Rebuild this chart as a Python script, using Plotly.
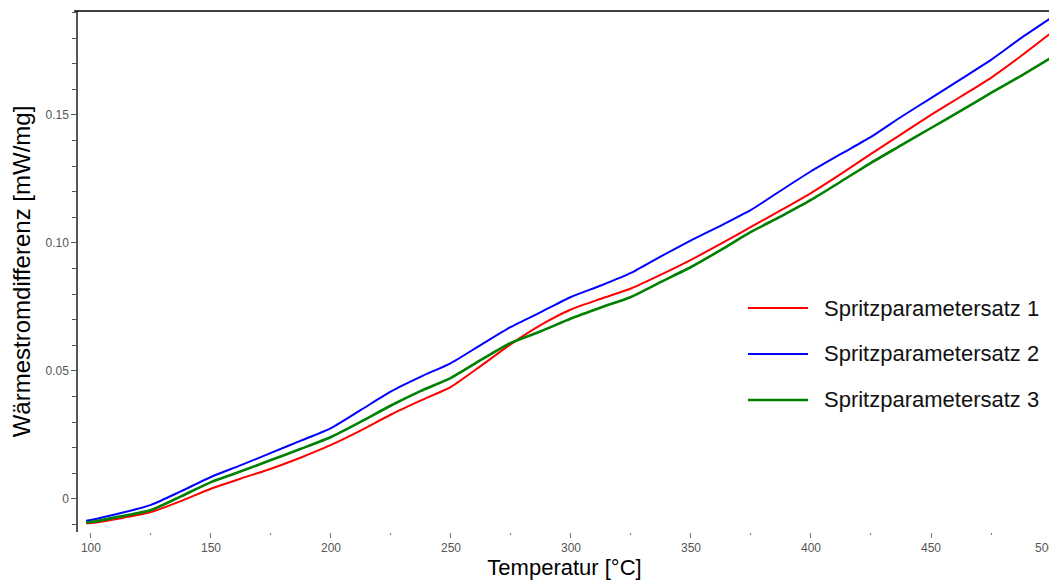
import plotly.graph_objects as go

# temperatures in °C
temperatur = [98, 100, 112.5, 125, 137.5, 150, 162.5, 175, 187.5, 200, 212.5, 225, 237.5,
              250, 262.5, 275, 287.5, 300, 312.5, 325, 337.5, 350, 362.5, 375, 387.5,
              400, 412.5, 425, 437.5, 450, 462.5, 475, 487.5, 500]

# Wärmestromdifferenz in mW/mg
satz1 = [-0.0095, -0.0094, -0.0075, -0.0051, -0.0008, 0.0040, 0.0080, 0.0118, 0.0162, 0.0211,
         0.0268, 0.0330, 0.0385, 0.0438, 0.0520, 0.0605, 0.0680, 0.0740, 0.0782, 0.0822,
         0.0876, 0.0934, 0.0997, 0.1063, 0.1128, 0.1195, 0.1270, 0.1348, 0.1424, 0.1500,
         0.1572, 0.1645, 0.1730, 0.1820]
satz2 = [-0.0085, -0.0082, -0.0055, -0.0023, 0.0030, 0.0086, 0.0132, 0.0180, 0.0228, 0.0277,
         0.0348, 0.0420, 0.0478, 0.0531, 0.0602, 0.0672, 0.0730, 0.0789, 0.0834, 0.0883,
         0.0948, 0.1010, 0.1068, 0.1129, 0.1205, 0.1280, 0.1348, 0.1414, 0.1492, 0.1566,
         0.1640, 0.1715, 0.1800, 0.1879]
satz3 = [-0.0092, -0.0090, -0.0068, -0.0043, 0.0010, 0.0066, 0.0108, 0.0152, 0.0196, 0.0242,
         0.0302, 0.0365, 0.0422, 0.0473, 0.0543, 0.0610, 0.0655, 0.0705, 0.0748, 0.0789,
         0.0848, 0.0906, 0.0973, 0.1043, 0.1104, 0.1168, 0.1240, 0.1313, 0.1381, 0.1449,
         0.1517, 0.1586, 0.1653, 0.1723]

namen = ["Spritzparametersatz 1", "Spritzparametersatz 2", "Spritzparametersatz 3"]
farben = ["#ff0000", "#0000ff", "#008000"]
breiten = [2, 2, 2.6]

y_ticks = [0, 0.05, 0.10, 0.15]
y_ticktext = ["0", "0.05", "0.10", "0.15"]
x_ticks = [100, 150, 200, 250, 300, 350, 400, 450, 500]

fig = go.Figure()
for i, werte in enumerate([satz1, satz2, satz3]):
    fig.add_trace(go.Scatter(
        x=temperatur,
        y=werte,
        mode='lines',
        name=namen[i],
        showlegend=False,
        line=dict(color=farben[i], width=breiten[i], shape='spline', smoothing=0.6),
    ))

tick_font = dict(family="Liberation Sans, Arial, sans-serif", size=12, color="#555555")

# the page body has an 8px margin, so the figure is 8px smaller than the window
fig.update_layout(
    width=1049,
    height=580,
    margin=dict(l=70, r=6, t=3, b=56, autoexpand=False),
    plot_bgcolor="white",
    paper_bgcolor="white",
    font=dict(family="Liberation Sans, Arial, sans-serif", color="black"),
    xaxis=dict(
        range=[94.6, 500],
        tickvals=x_ticks,
        ticks="outside", ticklen=5, tickcolor="#777777",
        tickfont=tick_font,
        minor=dict(tickmode="linear", tick0=75, dtick=50, ticks="outside",
                   ticklen=2, tickcolor="#777777"),
        showgrid=False, zeroline=False, showline=False,
        automargin=False,
        title=dict(text="Temperatur [°C]", font=dict(size=22), standoff=5),
    ),
    yaxis=dict(
        range=[-0.0129, 0.1906],
        tickvals=y_ticks, ticktext=y_ticktext,
        ticks="outside", ticklen=5, tickcolor="#555555",
        tickfont=tick_font,
        minor=dict(tickmode="linear", tick0=0, dtick=0.01, ticks="outside",
                   ticklen=4, tickcolor="#555555"),
        showgrid=False, zeroline=False,
        showline=True, linecolor="#555555", linewidth=1.5,
        automargin=False,
        title=dict(text="Wärmestromdifferenz [mW/mg]", font=dict(size=24), standoff=11),
    ),
)

# top border black, right border grey
fig.add_shape(type="line", xref="paper", yref="paper", x0=-0.004, x1=1, y0=1, y1=1,
              line=dict(color="black", width=1.5))
fig.add_shape(type="line", xref="paper", yref="paper", x0=1, x1=1, y0=0, y1=1,
              line=dict(color="#555555", width=1.5))

# last x tick label sits on the edge; plotly drops it, so put it back (kept inside the page)
fig.add_annotation(xref="x", yref="paper", x=x_ticks[-1], y=0, yshift=-7, xshift=6,
                   xanchor="right", yanchor="top", showarrow=False,
                   text=str(x_ticks[-1]), font=tick_font)

# legend drawn by hand, as in the original (long line samples, no frame)
leg_y = [0.4299, 0.3417, 0.2534]
for i in range(3):
    fig.add_shape(type="line", xref="paper", yref="paper", x0=0.6886, x1=0.7503,
                  y0=leg_y[i], y1=leg_y[i], line=dict(color=farben[i], width=breiten[i]))
    fig.add_annotation(xref="paper", yref="paper", x=0.7647, y=leg_y[i],
                       xanchor="left", yanchor="middle", showarrow=False,
                       text=namen[i], font=dict(size=22, color="#111111"))

fig.write_html("out.html")
